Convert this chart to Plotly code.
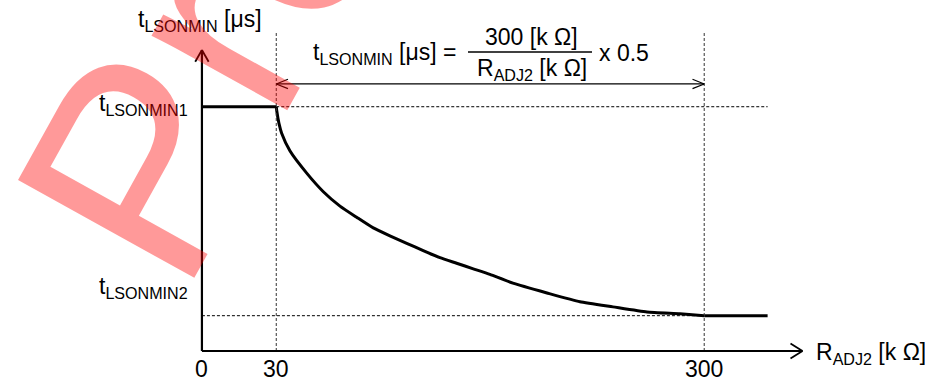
import plotly.graph_objects as go

W, H = 925, 381

# ---- data (schematic values) ----
R_TICK_LABELS = ["0", "30", "300"]
R_TICK_POS = [-16.9, 30.0, 300.0]        # x-axis is broken between 0 and 30
R_ORIGIN = R_TICK_POS[0]
R_KNEE, R_END, R_TAIL = 30.0, 300.0, 340.0
T1, T2 = 5.0, 0.5                          # tLSONMIN1, tLSONMIN2 (µs)
T_AXIS = -0.26                             # where the R axis crosses
R_ARROW, T_ARROW = 362.0, 6.22             # axis arrow tips
T_GUIDE_TOP = 6.59                         # top of vertical guide lines
T_DIM = 5.49                               # dimension arrow level

curve_R = [30, 30.4, 31.7, 33.4, 38.6, 49.2, 59.7, 70.2, 80.7, 91.2, 101.7, 112.3,
           122.7, 133.3, 143.8, 154.3, 164.8, 179.3, 200.8, 221.6, 242.4, 263.9,
           284.7, 300]
curve_t = [5.0, 4.89, 4.64, 4.43, 4.05, 3.57, 3.17, 2.86, 2.62, 2.39, 2.22, 2.06,
           1.90, 1.75, 1.63, 1.51, 1.39, 1.20, 0.99, 0.80, 0.69, 0.58, 0.54, 0.5]

XR = [-144.3, 439.3]
YR = [-0.906, 7.298]
PXR = W / (XR[1] - XR[0])   # px per kOhm unit
PXT = H / (YR[1] - YR[0])   # px per µs unit

FONT = "Liberation Sans, Arial, sans-serif"
BLACK = "#000000"

fig = go.Figure()

# flat part (0..30), curve (30..300), flat part (300..)
fig.add_trace(go.Scatter(x=[R_ORIGIN, R_KNEE], y=[T1, T1], mode="lines",
                         line=dict(color=BLACK, width=3), hoverinfo="skip"))
fig.add_trace(go.Scatter(x=curve_R, y=curve_t, mode="lines",
                         line=dict(color=BLACK, width=3, shape="spline", smoothing=0.5),
                         hoverinfo="skip"))
fig.add_trace(go.Scatter(x=[R_END, R_TAIL], y=[T2, T2], mode="lines",
                         line=dict(color=BLACK, width=3), hoverinfo="skip"))

shapes = []

def seg(x0, y0, x1, y1, width=1, dash=None, color=BLACK):
    ln = dict(color=color, width=width)
    if dash:
        ln["dash"] = dash
    shapes.append(dict(type="line", xref="x", yref="y", x0=x0, y0=y0, x1=x1, y1=y1,
                       line=ln, layer="above"))

def vhead(xt, yt, direction, alen, aw, width):
    # open V arrow head; sizes in px
    if direction == "up":
        dx, dy = aw / PXR, alen / PXT
        seg(xt - dx, yt - dy, xt, yt, width)
        seg(xt + dx, yt - dy, xt, yt, width)
    elif direction == "right":
        dx, dy = alen / PXR, aw / PXT
        seg(xt - dx, yt - dy, xt, yt, width)
        seg(xt - dx, yt + dy, xt, yt, width)
    elif direction == "left":
        dx, dy = alen / PXR, aw / PXT
        seg(xt + dx, yt - dy, xt, yt, width)
        seg(xt + dx, yt + dy, xt, yt, width)

# guide lines
DASH = "3px,2px"
seg(R_KNEE, T_AXIS, R_KNEE, T_GUIDE_TOP, 1, DASH, "#333333")
seg(R_END, T_AXIS, R_END, T_GUIDE_TOP, 1, DASH, "#333333")
seg(R_KNEE, T1, R_TAIL, T1, 1, DASH)
seg(R_ORIGIN, T2, R_END, T2, 1, DASH)

# axes
seg(R_ORIGIN, T_AXIS, R_ARROW, T_AXIS, 2.2)
seg(R_ORIGIN, T_AXIS, R_ORIGIN, T_ARROW, 2.2)
vhead(R_ORIGIN, T_ARROW, "up", 11.7, 6.7, 1.8)
vhead(R_ARROW, T_AXIS, "right", 12, 7.5, 1.8)

# dimension arrow
seg(R_KNEE, T_DIM, R_END, T_DIM, 1.2)
vhead(R_KNEE, T_DIM, "left", 11.7, 4.7, 1.2)
vhead(R_END, T_DIM, "right", 11.7, 4.7, 1.2)

annotations = []

def txt(text, x, y, xref="x", yref="y", xanchor="center", yanchor="middle",
        xshift=0, yshift=0, size=23):
    annotations.append(dict(text=text, x=x, y=y, xref=xref, yref=yref,
                            xanchor=xanchor, yanchor=yanchor, xshift=xshift,
                            yshift=yshift, showarrow=False,
                            font=dict(family=FONT, size=size, color=BLACK)))

def px(xp):
    return xp / W

def py(yp):
    return 1 - yp / H

# tick labels
for lab, pos in zip(R_TICK_LABELS, R_TICK_POS):
    txt(lab, pos, T_AXIS, yshift=-18)

# y levels
txt("t<sub>LSONMIN1</sub>", R_ORIGIN, T1, xanchor="right", xshift=-12, yshift=2)
txt("t<sub>LSONMIN2</sub>", R_ORIGIN, T2, xanchor="right", xshift=-12, yshift=28)

# axis titles
txt("t<sub>LSONMIN</sub> [μs]", px(200), py(20), "paper", "paper")
txt("R<sub>ADJ2</sub> [k Ω]", px(814), py(353), "paper", "paper", xanchor="left")

# formula
txt("t<sub>LSONMIN</sub> [μs] = ", px(311), py(54), "paper", "paper", xanchor="left")
txt("300 [k Ω]", px(531), py(37), "paper", "paper")
txt("R<sub>ADJ2</sub> [k Ω]", px(532), py(70), "paper", "paper")
txt("x 0.5", px(597), py(53), "paper", "paper", xanchor="left")
shapes.append(dict(type="line", xref="paper", yref="paper", x0=px(468), x1=px(592),
                   y0=py(52), y1=py(52), line=dict(color=BLACK, width=1.5)))

# watermark
annotations.append(dict(text="Pre", x=px(204), y=py(50), xref="paper", yref="paper",
                        xanchor="center", yanchor="middle", showarrow=False,
                        textangle=-61,
                        font=dict(family=FONT, size=293, color="rgba(255,0,0,0.4)")))

fig.update_layout(
    width=W, height=H, margin=dict(l=0, r=0, t=0, b=0),
    paper_bgcolor="white", plot_bgcolor="white", showlegend=False,
    xaxis=dict(range=XR, visible=False, fixedrange=True),
    yaxis=dict(range=YR, visible=False, fixedrange=True),
    shapes=shapes, annotations=annotations)

fig.write_html("out.html")
